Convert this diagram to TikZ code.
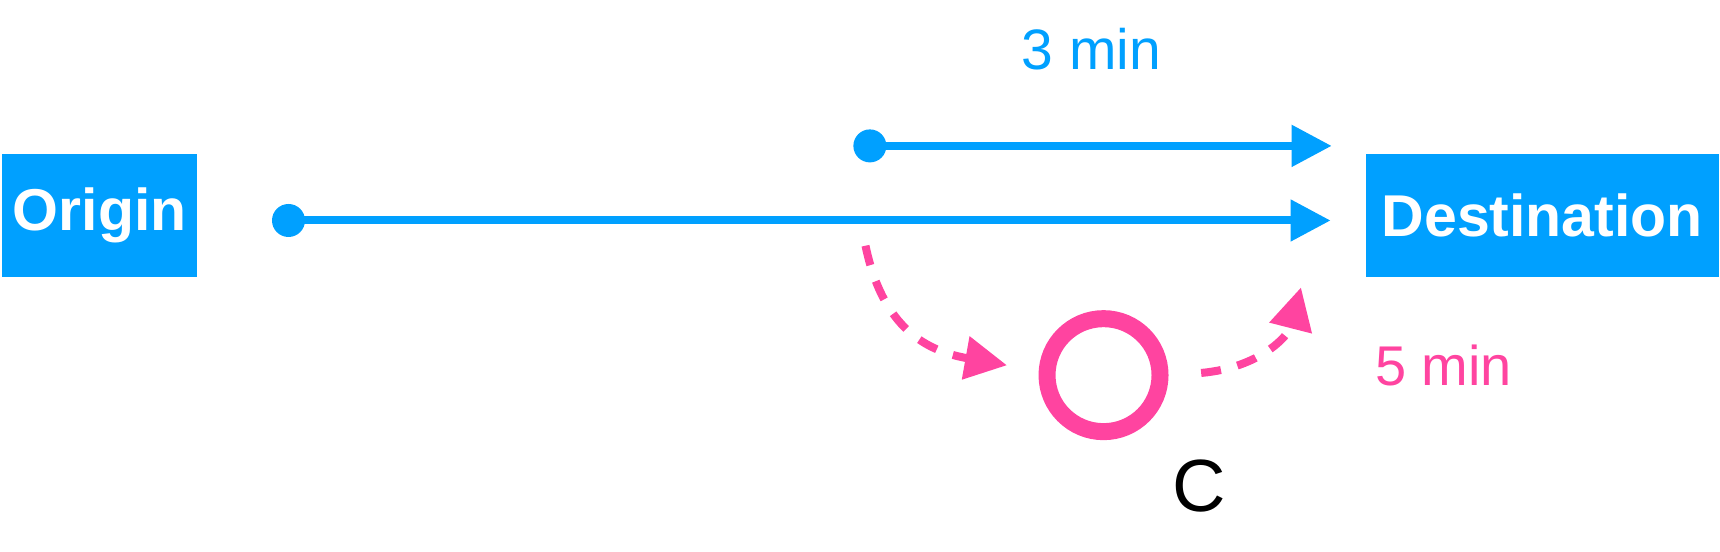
\documentclass[tikz,border=0pt]{standalone}
\usepackage{fontspec}
\setmainfont{Liberation Sans}
\usetikzlibrary{arrows.meta}
\definecolor{cblue}{RGB}{0,160,255}
\definecolor{cpink}{RGB}{255,68,160}
\begin{document}
\begin{tikzpicture}[x=1.097pt,y=-1.097pt,every node/.style={transform shape},scale=1,
  box/.style={fill=cblue,text=white,font=\fontsize{59}{64}\selectfont\bfseries,inner sep=0pt,anchor=center},
  bline/.style={cblue,line width=8pt,-{Triangle[length=40pt,width=40pt]}},
  pline/.style={cpink,line width=8pt,dash pattern=on 20pt off 17pt,-{Triangle[length=42pt,width=42pt]}},
  dot/.style={circle,fill=cblue,minimum size=33pt,inner sep=0pt}]
\useasboundingbox (0,0) rectangle (1568,503);
\node[box,minimum width=195pt,minimum height=123pt] (o) at (91,196) {Origin};
\node[box,minimum width=353pt,minimum height=123pt] (d) at (1406,196) {Destination};
\node[dot] (d1) at (263,201) {};
\coordinate (e1) at (1213,201);
\node[dot] (d2) at (793,133) {};
\coordinate (e2) at (1214,133);
\draw[bline] (d1.center) -- (e1);
\draw[bline] (d2.center) -- (e2);
\node[text=cblue,font=\fontsize{57}{64}\selectfont] (t3) at (995,45) {3 min};
\node[circle,draw=cpink,line width=17pt,minimum size=113pt,inner sep=0pt] (c) at (1006,342) {};
\node[font=\fontsize{74}{80}\selectfont] (cl) at (1093,443) {C};
\node[text=cpink,font=\fontsize{56}{60}\selectfont] (t5) at (1316,333) {5 min};
\coordinate (p1) at (789,224);
\coordinate (p2) at (918,333);
\coordinate (p3) at (1095,340);
\coordinate (p4) at (1186,262);
\draw[pline] (p1) .. controls (805,300) and (845,320) .. (p2);
\draw[pline] (p3) .. controls (1150,335) and (1175,305) .. (p4);
\end{tikzpicture}
\end{document}
